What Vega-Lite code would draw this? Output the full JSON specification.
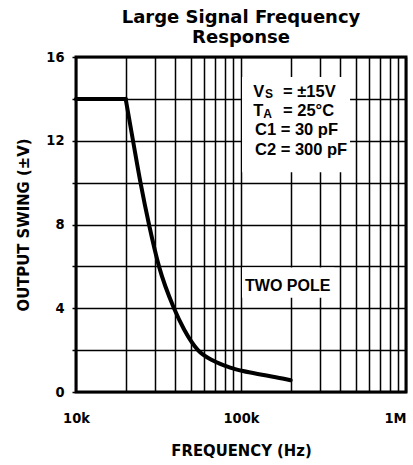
{
  "$schema": "https://vega.github.io/schema/vega-lite/v6.json",
  "width": 330,
  "height": 335,
  "autosize": {"type": "none"},
  "padding": {"left": 76, "top": 57, "right": 7, "bottom": 73},
  "background": "white",
  "title": {
    "text": ["Large Signal Frequency", "Response"],
    "font": "DejaVu Sans",
    "fontSize": 18,
    "fontWeight": "bold",
    "lineHeight": 20,
    "color": "black",
    "anchor": "middle",
    "offset": 2
  },
  "config": {
    "view": {"stroke": "black", "strokeWidth": 3},
    "axis": {
      "gridColor": "black",
      "gridOpacity": 1,
      "gridWidth": 1.5,
      "domain": false,
      "labelColor": "black",
      "titleColor": "black",
      "labelFont": "DejaVu Sans Condensed, sans-serif",
      "labelFontWeight": "bold",
      "labelFontSize": 14.5,
      "titleFont": "DejaVu Sans Condensed, sans-serif",
      "titleFontWeight": "bold",
      "titleFontSize": 16.5
    }
  },
  "datasets": {
    "curve": [
      {"f": 10000, "v": 14, "part": "flat"},
      {"f": 20000, "v": 14, "part": "flat"},
      {"f": 20000, "v": 14, "part": "roll"},
      {"f": 22160, "v": 12, "part": "roll"},
      {"f": 24600, "v": 10, "part": "roll"},
      {"f": 27700, "v": 8, "part": "roll"},
      {"f": 31840, "v": 6, "part": "roll"},
      {"f": 39260, "v": 4, "part": "roll"},
      {"f": 45130, "v": 3, "part": "roll"},
      {"f": 54850, "v": 2, "part": "roll"},
      {"f": 67630, "v": 1.5, "part": "roll"},
      {"f": 85000, "v": 1.18, "part": "roll"},
      {"f": 102800, "v": 1.0, "part": "roll"},
      {"f": 140000, "v": 0.8, "part": "roll"},
      {"f": 184700, "v": 0.62, "part": "roll"},
      {"f": 200000, "v": 0.56, "part": "roll"}
    ],
    "boxes": [
      {"f": 101500, "f2": 458000, "v": 10.5, "v2": 15.05},
      {"f": 101500, "f2": 368000, "v": 4.5, "v2": 5.95}
    ],
    "names": [
      {"f": 118700, "v": 14.09, "t": "V"},
      {"f": 118700, "v": 13.18, "t": "T"},
      {"f": 121600, "v": 12.27, "t": "C1 = 30 pF"},
      {"f": 121600, "v": 11.32, "t": "C2 = 300 pF"}
    ],
    "subs": [
      {"f": 139800, "v": 14.04, "t": "S"},
      {"f": 136600, "v": 13.1, "t": "A"}
    ],
    "vals": [
      {"f": 179700, "v": 14.09, "t": "= ±15V"},
      {"f": 179700, "v": 13.18, "t": "= 25°C"}
    ],
    "label": [
      {"f": 192000, "v": 4.82, "t": "TWO POLE"}
    ]
  },
  "layer": [
    {
      "data": {"name": "boxes"},
      "mark": {"type": "rect", "fill": "white", "stroke": null},
      "encoding": {
        "x": {
          "field": "f",
          "type": "quantitative",
          "scale": {"type": "log", "domain": [10000, 1000000], "nice": false},
          "axis": {
            "values": [10000, 20000, 30000, 40000, 50000, 60000, 70000, 80000, 90000, 100000, 200000, 300000, 400000, 500000, 600000, 700000, 800000, 900000, 1000000],
            "labelExpr": "datum.value == 10000 ? '10k' : datum.value == 100000 ? '100k' : datum.value == 1000000 ? '1M' : ''",
            "ticks": false,
            "grid": true,
            "labelPadding": 19,
            "labelAlign": {"condition": {"test": "datum.value >= 1000000", "value": "right"}, "value": "center"},
            "title": "FREQUENCY (Hz)",
            "titlePadding": 18
          }
        },
        "x2": {"field": "f2"},
        "y": {
          "field": "v",
          "type": "quantitative",
          "scale": {"domain": [0, 16], "nice": false},
          "axis": {
            "values": [0, 2, 4, 6, 8, 10, 12, 14, 16],
            "labelExpr": "datum.value % 4 == 0 ? datum.label : ''",
            "grid": true,
            "ticks": true,
            "tickColor": "black",
            "tickSize": 4,
            "tickWidth": 1.5,
            "labelPadding": 8,
            "title": "OUTPUT SWING (±V)",
            "titlePadding": 14
          }
        },
        "y2": {"field": "v2"}
      }
    },
    {
      "data": {"name": "curve"},
      "mark": {"type": "line", "color": "black", "strokeWidth": 4, "interpolate": "monotone", "strokeJoin": "round", "strokeCap": "round"},
      "encoding": {
        "x": {"field": "f", "type": "quantitative"},
        "y": {"field": "v", "type": "quantitative"},
        "detail": {"field": "part"}
      }
    },
    {
      "data": {"name": "names"},
      "mark": {"type": "text", "align": "left", "baseline": "alphabetic", "font": "Liberation Sans, sans-serif", "fontWeight": "bold", "fontSize": 16.5, "color": "black"},
      "encoding": {
        "x": {"field": "f", "type": "quantitative"},
        "y": {"field": "v", "type": "quantitative"},
        "text": {"field": "t"}
      }
    },
    {
      "data": {"name": "subs"},
      "mark": {"type": "text", "align": "left", "baseline": "alphabetic", "font": "Liberation Sans, sans-serif", "fontWeight": "bold", "fontSize": 12, "color": "black"},
      "encoding": {
        "x": {"field": "f", "type": "quantitative"},
        "y": {"field": "v", "type": "quantitative"},
        "text": {"field": "t"}
      }
    },
    {
      "data": {"name": "vals"},
      "mark": {"type": "text", "align": "left", "baseline": "alphabetic", "font": "Liberation Sans, sans-serif", "fontWeight": "bold", "fontSize": 16.5, "color": "black"},
      "encoding": {
        "x": {"field": "f", "type": "quantitative"},
        "y": {"field": "v", "type": "quantitative"},
        "text": {"field": "t"}
      }
    },
    {
      "data": {"name": "label"},
      "mark": {"type": "text", "align": "center", "baseline": "alphabetic", "font": "Liberation Sans, sans-serif", "fontWeight": "bold", "fontSize": 16, "color": "black"},
      "encoding": {
        "x": {"field": "f", "type": "quantitative"},
        "y": {"field": "v", "type": "quantitative"},
        "text": {"field": "t"}
      }
    }
  ]
}
